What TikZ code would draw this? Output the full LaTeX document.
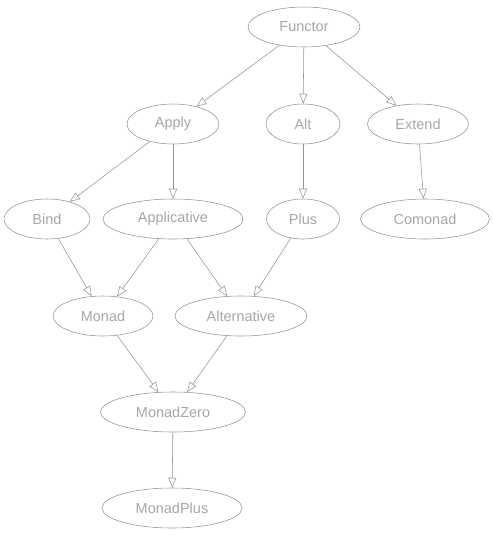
\documentclass[tikz,border=0pt]{standalone}
\usepackage{fontspec}
\setmainfont{Liberation Sans}
\usetikzlibrary{shapes.geometric,arrows.meta}
\definecolor{edgecol}{HTML}{939393}
\definecolor{textcol}{HTML}{A6A6A6}
\begin{document}
\begin{tikzpicture}[x=1pt,y=-1pt,
  cls/.style={ellipse,draw=edgecol,line width=0.55pt,minimum height=40pt,inner sep=0pt,
    text=textcol,font=\fontsize{14.5}{16}\selectfont},
  inh/.style={draw=edgecol,line width=0.55pt,-{Triangle[open,length=10pt,width=8pt]}}]
\useasboundingbox (0,0) rectangle (493,539);
\node[cls,minimum width=112pt] (functor) at (304,27) {Functor};
\node[cls,minimum width=92pt] (apply) at (173,124) {Apply};
\node[cls,minimum width=74pt] (alt) at (303,124) {Alt};
\node[cls,minimum width=101pt] (extend) at (418,124) {Extend};
\node[cls,minimum width=86pt] (bind) at (47,219) {Bind};
\node[cls,minimum width=140pt] (applicative) at (173,219) {Applicative};
\node[cls,minimum width=73pt] (plus) at (303,219) {Plus};
\node[cls,minimum width=129pt] (comonad) at (425,219) {Comonad};
\node[cls,minimum width=100pt] (monad) at (103,316) {Monad};
\node[cls,minimum width=132pt] (alternative) at (241,316) {Alternative};
\node[cls,minimum width=145pt] (monadzero) at (173,412) {MonadZero};
\node[cls,minimum width=140pt] (monadplus) at (172,508) {MonadPlus};
\draw[inh] (functor) -- (apply);
\draw[inh] (functor) -- (alt);
\draw[inh] (functor) -- (extend);
\draw[inh] (apply) -- (bind);
\draw[inh] (apply) -- (applicative);
\draw[inh] (alt) -- (plus);
\draw[inh] (extend) -- (comonad);
\draw[inh] (bind) -- (monad);
\draw[inh] (applicative) -- (monad);
\draw[inh] (applicative) -- (alternative);
\draw[inh] (plus) -- (alternative);
\draw[inh] (monad) -- (monadzero);
\draw[inh] (alternative) -- (monadzero);
\draw[inh] (monadzero) -- (monadplus);
\end{tikzpicture}
\end{document}
